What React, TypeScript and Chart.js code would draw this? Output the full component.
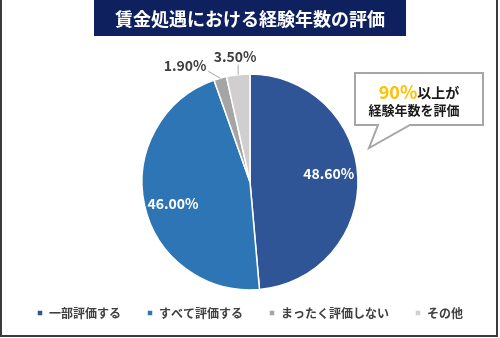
import React, { useEffect, useRef } from "react";
import { Chart, registerables } from "chart.js";

Chart.register(...registerables);

const TITLE = "賃金処遇における経験年数の評価";
const categories = ["一部評価する", "すべて評価する", "まったく評価しない", "その他"];
const values = [48.6, 46.0, 1.9, 3.5];
const colors = ["#2F5597", "#2E75B6", "#A5A5A5", "#D0CECE"];
const calloutHighlight = "90%";
const calloutLine1 = "以上が";
const calloutLine2 = "経験年数を評価";

const FONT = "'Noto Sans CJK JP', 'Noto Sans', sans-serif";

const decorPlugin = {
  id: "decor",
  beforeDraw(chart: any) {
    const ctx = chart.ctx;
    ctx.save();
    ctx.fillStyle = "#ffffff";
    ctx.fillRect(0, 0, chart.width, chart.height);
    ctx.restore();
  },
  afterDraw(chart: any) {
    const ctx = chart.ctx;
    ctx.save();
    // frame
    ctx.strokeStyle = "#3a3a3a";
    ctx.lineWidth = 2;
    ctx.strokeRect(1, -5, 496, 341);
    // title box
    ctx.fillStyle = "#0E205E";
    ctx.fillRect(94, 0, 312, 36);
    ctx.fillStyle = "#ffffff";
    ctx.font = `bold 18px ${FONT}`;
    ctx.textAlign = "center";
    ctx.textBaseline = "middle";
    ctx.fillText(TITLE, 250, 19);

    // value labels
    const meta = chart.getDatasetMeta(0);
    meta.data.forEach((arc: any, i: number) => {
      const v = values[i];
      const label = v.toFixed(2) + "%";
      const mid = (arc.startAngle + arc.endAngle) / 2;
      const r = arc.outerRadius;
      ctx.font = `bold 14px ${FONT}`;
      ctx.textAlign = "center";
      ctx.textBaseline = "middle";
      if (v > 10) {
        const rr = r * 0.72;
        const x = arc.x + Math.cos(mid) * rr;
        const y = arc.y + Math.sin(mid) * rr + (i === 0 ? -5 : 5);
        ctx.fillStyle = "#ffffff";
        ctx.fillText(label, x + (i === 1 ? -1 : 1), y);
      } else {
        const x0 = arc.x + Math.cos(mid) * r;
        const y0 = arc.y + Math.sin(mid) * r;
        let x1, y1, tx, ty;
        if (i === 2) {
          x1 = x0 - 12; y1 = y0 - 7; tx = x1 - 23; ty = y1 - 6;
        } else {
          x1 = x0; y1 = y0 - 10; tx = x1 - 3; ty = y1 - 8;
        }
        ctx.strokeStyle = "#A6A6A6";
        ctx.lineWidth = 1;
        ctx.beginPath();
        ctx.moveTo(x0, y0);
        ctx.lineTo(x1, y1);
        ctx.stroke();
        ctx.fillStyle = "#404040";
        ctx.fillText(label, tx, ty);
      }
    });

    // callout
    ctx.beginPath();
    ctx.moveTo(355, 73);
    ctx.lineTo(483, 73);
    ctx.lineTo(483, 125);
    ctx.lineTo(410, 125);
    ctx.lineTo(369, 148);
    ctx.lineTo(378, 125);
    ctx.lineTo(355, 125);
    ctx.closePath();
    ctx.fillStyle = "#ffffff";
    ctx.fill();
    ctx.strokeStyle = "#A6A6A6";
    ctx.lineWidth = 2;
    ctx.stroke();

    ctx.textBaseline = "middle";
    ctx.textAlign = "left";
    ctx.font = `bold 18px ${FONT}`;
    const w1 = ctx.measureText(calloutHighlight).width;
    ctx.font = `bold 14px ${FONT}`;
    const w2 = ctx.measureText(calloutLine1).width;
    const sx = 419 - (w1 + w2) / 2;
    ctx.font = `bold 18px ${FONT}`;
    ctx.fillStyle = "#FFC000";
    ctx.fillText(calloutHighlight, sx, 92);
    ctx.font = `bold 14px ${FONT}`;
    ctx.fillStyle = "#1a1a1a";
    ctx.fillText(calloutLine1, sx + w1, 93);
    ctx.textAlign = "center";
    ctx.font = `bold 13px ${FONT}`;
    ctx.fillText(calloutLine2, 414, 110);
    ctx.restore();
  },
};

export default function App() {
  const ref = useRef<HTMLCanvasElement>(null);
  useEffect(() => {
    document.body.style.margin = "0";
    const chart = new Chart(ref.current!, {
      type: "pie",
      data: {
        labels: categories,
        datasets: [
          {
            data: values,
            backgroundColor: colors,
            borderColor: "#ffffff",
            borderWidth: 1.5,
          },
        ],
      },
      options: {
        responsive: false,
        devicePixelRatio: 1,
        animation: false,
        radius: 108,
        layout: { padding: { top: 83, bottom: 9, left: 0, right: 0 } },
        plugins: {
          legend: {
            position: "bottom",
            labels: {
              usePointStyle: true,
              pointStyle: "rect",
              boxWidth: 6,
              boxHeight: 6,
              padding: 26,
              color: "#404040",
              font: { family: FONT, size: 12, weight: "bold" },
            },
          },
          tooltip: { enabled: false },
        },
      } as any,
      plugins: [decorPlugin],
    });
    return () => chart.destroy();
  }, []);
  return (
    <div style={{ position: "fixed", left: 0, top: 0, width: 500, height: 338 }}>
      <canvas ref={ref} width={500} height={338} />
    </div>
  );
}
